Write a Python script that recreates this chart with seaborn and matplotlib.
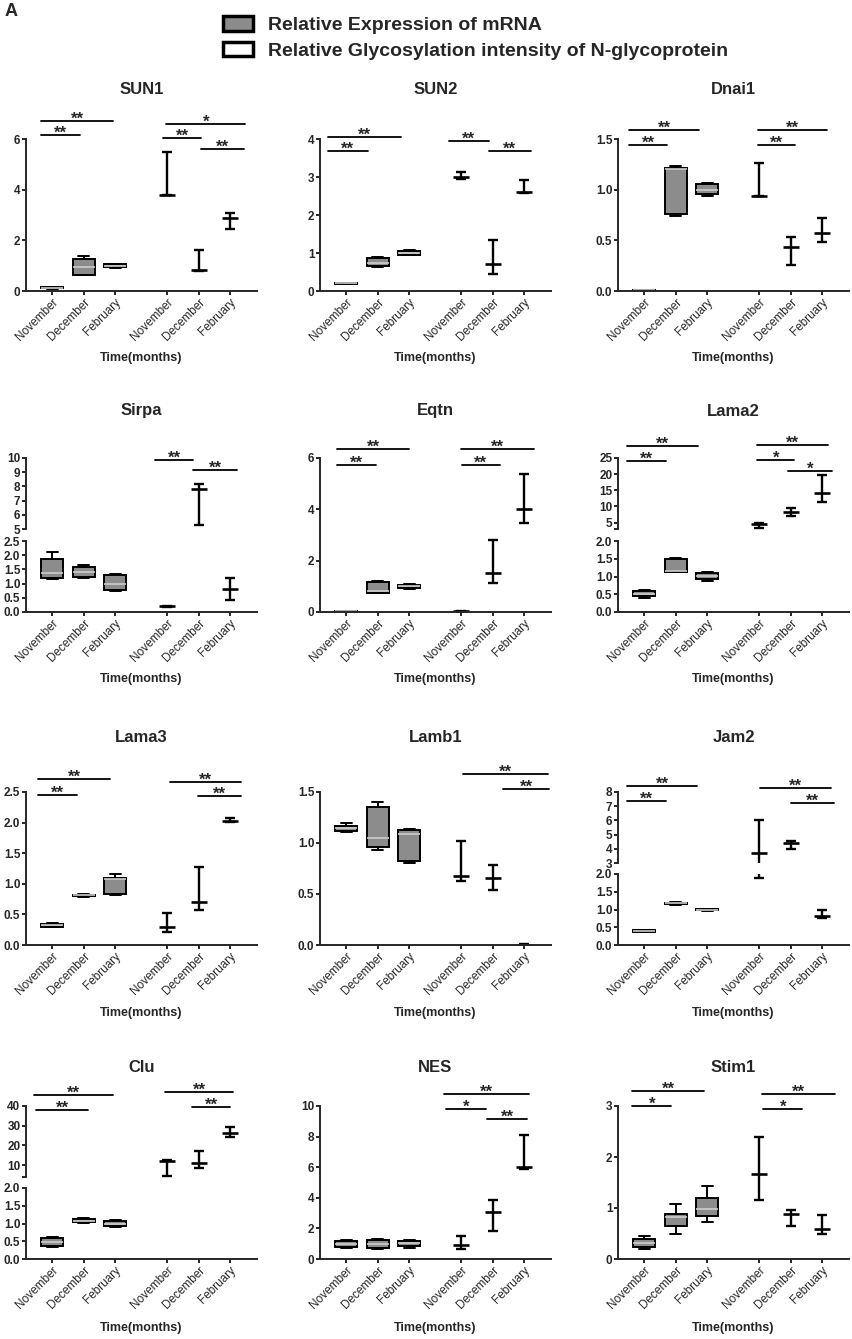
import numpy as np
import pandas as pd
import matplotlib
matplotlib.use("Agg")
import matplotlib.pyplot as plt
import matplotlib.transforms as mtransforms
from matplotlib.patches import Patch
import seaborn as sns

sns.set_style("ticks")
plt.rcParams["font.family"] = ["Liberation Sans", "DejaVu Sans"]

W, H = 853, 1339

months = ["November", "December", "February"]

# mRNA: five-number summaries (min, q1, median, q3, max) per month
# N-glycoprotein: (min, median, max) per month
sun1_mrna = [[0.08, 0.1, 0.12, 0.15, 0.17], [0.62, 0.64, 0.95, 1.28, 1.38], [0.9, 0.94, 1.0, 1.05, 1.08]]
sun1_glyco = [[3.8, 3.8, 5.5], [0.78, 0.82, 1.62], [2.45, 2.9, 3.08]]

sun2_mrna = [[0.18, 0.19, 0.2, 0.21, 0.22], [0.64, 0.66, 0.75, 0.86, 0.89], [0.94, 0.96, 1.0, 1.04, 1.08]]
sun2_glyco = [[2.96, 3.0, 3.14], [0.46, 0.72, 1.35], [2.58, 2.61, 2.91]]

dnai1_mrna = [[0.0, 0.002, 0.005, 0.007, 0.01], [0.74, 0.76, 1.2, 1.21, 1.23], [0.94, 0.96, 1.0, 1.06, 1.07]]
dnai1_glyco = [[0.94, 0.94, 1.26], [0.26, 0.43, 0.53], [0.48, 0.57, 0.72]]

sirpa_mrna = [[1.15, 1.18, 1.38, 1.85, 2.1], [1.18, 1.22, 1.42, 1.58, 1.64], [0.74, 0.77, 1.0, 1.3, 1.35]]
sirpa_glyco = [[0.18, 0.2, 0.21], [5.3, 7.8, 8.2], [0.43, 0.81, 1.2]]

eqtn_mrna = [[0.0, 0.01, 0.02, 0.03, 0.04], [0.73, 0.75, 0.8, 1.17, 1.2], [0.9, 0.93, 1.0, 1.05, 1.1]]
eqtn_glyco = [[0.0, 0.02, 0.03], [1.14, 1.53, 2.79], [3.47, 4.03, 5.39]]

lama2_mrna = [[0.4, 0.44, 0.5, 0.58, 0.62], [1.12, 1.14, 1.16, 1.48, 1.52], [0.88, 0.92, 1.02, 1.09, 1.13]]
lama2_glyco = [[3.4, 4.4, 4.9], [7.0, 8.4, 9.5], [11.4, 14.2, 19.8]]

lama3_mrna = [[0.29, 0.3, 0.32, 0.34, 0.36], [0.79, 0.8, 0.81, 0.82, 0.83], [0.82, 0.84, 1.08, 1.1, 1.16]]
lama3_glyco = [[0.22, 0.3, 0.53], [0.57, 0.7, 1.28], [2.01, 2.02, 2.07]]

lamb1_mrna = [[1.11, 1.12, 1.15, 1.17, 1.2], [0.93, 0.96, 1.05, 1.35, 1.4], [0.8, 0.82, 1.09, 1.13, 1.14]]
lamb1_glyco = [[0.63, 0.68, 1.02], [0.54, 0.66, 0.78], [0.0, 0.0, 0.005]]

jam2_mrna = [[0.37, 0.38, 0.4, 0.41, 0.43], [1.14, 1.15, 1.17, 1.19, 1.2], [0.97, 0.98, 1.0, 1.01, 1.02]]
jam2_glyco = [[1.88, 3.73, 6.0], [4.0, 4.38, 4.52], [0.76, 0.82, 0.98]]

clu_mrna = [[0.35, 0.37, 0.48, 0.58, 0.62], [1.02, 1.04, 1.08, 1.13, 1.16], [0.9, 0.92, 1.0, 1.07, 1.1]]
clu_glyco = [[4.6, 12.0, 12.5], [8.6, 11.2, 17.0], [24.1, 26.4, 29.4]]

nes_mrna = [[0.72, 0.78, 0.98, 1.15, 1.22], [0.65, 0.7, 1.0, 1.25, 1.32], [0.72, 0.85, 1.05, 1.2, 1.25]]
nes_glyco = [[0.68, 0.94, 1.48], [1.81, 3.06, 3.84], [5.85, 6.03, 8.08]]

stim1_mrna = [[0.2, 0.24, 0.32, 0.4, 0.45], [0.49, 0.64, 0.82, 0.89, 1.07], [0.73, 0.84, 0.98, 1.2, 1.43]]
stim1_glyco = [[1.15, 1.67, 2.39], [0.64, 0.89, 0.97], [0.49, 0.58, 0.86]]

# y ticks (lower axis, upper axis for broken axes)
yticks = {
    "SUN1": ([0, 2, 4, 6], None),
    "SUN2": ([0, 1, 2, 3, 4], None),
    "Dnai1": ([0, 0.5, 1.0, 1.5], None),
    "Sirpa": ([0, 0.5, 1.0, 1.5, 2.0, 2.5], [5, 6, 7, 8, 9, 10]),
    "Eqtn": ([0, 2, 4, 6], None),
    "Lama2": ([0, 0.5, 1.0, 1.5, 2.0], [3, 5, 10, 15, 20, 25]),
    "Lama3": ([0, 0.5, 1.0, 1.5, 2.0, 2.5], None),
    "Lamb1": ([0, 0.5, 1.0, 1.5], None),
    "Jam2": ([0, 0.5, 1.0, 1.5, 2.0], [3, 4, 5, 6, 7, 8]),
    "Clu": ([0, 0.5, 1.0, 1.5, 2.0], [4, 10, 20, 30, 40]),
    "NES": ([0, 2, 4, 6, 8, 10], None),
    "Stim1": ([0, 1, 2, 3], None),
}

# significance bars: (x start, x end, pixels above axis top, label)
sig_marks = {
    "SUN1": [(-0.35, 0.89, 4, "**"), (-0.35, 1.94, 18, "**"), (3.52, 4.73, 1, "**"),
             (3.62, 6.13, 15, "*"), (4.73, 6.1, -10, "**")],
    "SUN2": [(-0.58, 0.68, -12, "**"), (-0.58, 1.74, 2, "**"), (3.26, 4.52, -2, "**"),
             (4.52, 5.87, -12, "**")],
    "Dnai1": [(-0.47, 0.72, -6, "**"), (-0.47, 1.75, 9, "**"), (3.6, 4.78, -6, "**"),
              (3.6, 5.81, 9, "**")],
    "Sirpa": [(3.27, 4.48, -2, "**"), (4.48, 5.87, -12, "**")],
    "Eqtn": [(-0.3, 0.94, -7, "**"), (-0.3, 2.0, 9, "**"), (3.68, 4.87, -7, "**"),
             (3.65, 5.97, 9, "**")],
    "Lama2": [(-0.54, 0.7, -3, "**"), (-0.54, 1.71, 12, "**"), (3.59, 5.84, 13, "**"),
              (3.59, 4.76, -2, "*"), (4.57, 5.97, -13, "*")],
    "Lama3": [(-0.45, 0.78, -3, "**"), (-0.45, 1.84, 13, "**"), (3.75, 6.0, 10, "**"),
              (4.63, 6.0, -4, "**")],
    "Lamb1": [(3.71, 6.39, 18, "**"), (4.97, 6.45, 3, "**")],
    "Jam2": [(-0.53, 0.69, -9, "**"), (-0.53, 1.69, 6, "**"), (3.69, 5.94, 4, "**"),
             (4.66, 6.03, -11, "**")],
    "Clu": [(-0.51, 1.14, -4, "**"), (-0.57, 1.94, 11, "**"), (3.59, 5.75, 14, "**"),
            (4.44, 5.65, -1, "**")],
    "NES": [(3.1, 5.81, 12, "**"), (3.16, 4.45, -3, "*"), (4.48, 5.74, -13, "**")],
    "Stim1": [(-0.38, 0.86, 0, "*"), (-0.38, 1.9, 15, "**"), (3.78, 5.02, -3, "*"),
              (3.75, 6.06, 12, "**")],
}

panels = [
    ("SUN1", sun1_mrna, sun1_glyco), ("SUN2", sun2_mrna, sun2_glyco), ("Dnai1", dnai1_mrna, dnai1_glyco),
    ("Sirpa", sirpa_mrna, sirpa_glyco), ("Eqtn", eqtn_mrna, eqtn_glyco), ("Lama2", lama2_mrna, lama2_glyco),
    ("Lama3", lama3_mrna, lama3_glyco), ("Lamb1", lamb1_mrna, lamb1_glyco), ("Jam2", jam2_mrna, jam2_glyco),
    ("Clu", clu_mrna, clu_glyco), ("NES", nes_mrna, nes_glyco), ("Stim1", stim1_mrna, stim1_glyco),
]

pos_mrna = [0, 1, 2]
pos_glyco = [3.65, 4.65, 5.65]
XLIM = (-0.83, 6.5)
GRAY = "#8c8c8c"
LW = 1.4

col_left = [26, 320, 618]
AX_W = 231
row_top = [139, 458, 792, 1106]
row_bot = [291, 612, 945, 1259]
title_y = [89, 411, 738, 1067]
xlabel_y = [358, 679, 1013, 1328]
BROKEN_H = 71

fig = plt.figure(figsize=(W / 100, H / 100), dpi=100)


def fig_box(left, top, right, bottom):
    return [left / W, 1 - bottom / H, (right - left) / W, (bottom - top) / H]


def tick_labels(ticks):
    dec = any(float(t) != int(t) for t in ticks)
    labels = [f"{t:.1f}" if dec else f"{t:.0f}" for t in ticks]
    if len(ticks) > 2 and (ticks[1] - ticks[0]) != (ticks[2] - ticks[1]):
        labels[0] = ""
    return labels


def style_axis(ax, ticks, show_x):
    sns.despine(ax=ax)
    ax.spines["left"].set_linewidth(LW)
    ax.spines["bottom"].set_linewidth(LW)
    ax.set_ylim(ticks[0], ticks[-1])
    ax.set_yticks(ticks, labels=tick_labels(ticks))
    ax.tick_params(axis="both", direction="out", length=3, width=LW)
    ax.tick_params(axis="y", labelsize=8.5, pad=1)
    ax.tick_params(axis="x", pad=1)
    for lab in ax.get_yticklabels():
        lab.set_fontweight("bold")
    ax.set_xlim(*XLIM)
    ax.set_xlabel("")
    ax.set_ylabel("")
    if show_x:
        ax.set_xticks(pos_mrna + pos_glyco, labels=months + months)
        for lab in ax.get_xticklabels():
            lab.set_rotation(45)
            lab.set_ha("right")
            lab.set_va("top")
            lab.set_rotation_mode("anchor")
            lab.set_fontsize(8.5)
    else:
        ax.spines["bottom"].set_visible(False)
        ax.set_xticks([])


def draw_data(ax, mrna, glyco):
    df = pd.DataFrame({
        "month": np.repeat(months, 5),
        "value": np.concatenate(mrna),
    })
    sns.boxplot(data=df, x="month", y="value", order=months, ax=ax,
                color=GRAY, saturation=1, width=0.7, whis=(0, 100),
                linecolor="black", linewidth=LW, fliersize=0,
                medianprops=dict(color="#cdcdcd", linewidth=1.2))
    for x, (lo, med, hi) in zip(pos_glyco, glyco):
        ax.errorbar(x, med, yerr=[[med - lo], [hi - med]], fmt="none",
                    ecolor="black", elinewidth=LW + 0.3, capsize=3.5,
                    capthick=LW + 0.3)
        ax.hlines(med, x - 0.25, x + 0.25, color="black", lw=LW + 0.5)


def draw_sig(ax, marks):
    base = mtransforms.blended_transform_factory(ax.transData, ax.transAxes)
    for x0, x1, dy, label in marks:
        tr = mtransforms.offset_copy(base, fig=fig, y=dy, units="dots")
        ax.plot([x0, x1], [1, 1], color="black", lw=1.3, transform=tr,
                clip_on=False, scalex=False, scaley=False)
        tr2 = mtransforms.offset_copy(base, fig=fig, y=dy - 3, units="dots")
        ax.text((x0 + x1) / 2, 1, label, transform=tr2, ha="center",
                va="baseline", fontsize=12, fontweight="bold", clip_on=False)


for k, (name, mrna, glyco) in enumerate(panels):
    r, c = divmod(k, 3)
    left, top, bot = col_left[c], row_top[r], row_bot[r]
    low_ticks, high_ticks = yticks[name]
    if high_ticks is None:
        ax_lo = fig.add_axes(fig_box(left, top, left + AX_W, bot))
        draw_data(ax_lo, mrna, glyco)
        style_axis(ax_lo, low_ticks, True)
        ax_top = ax_lo
    else:
        ax_hi = fig.add_axes(fig_box(left, top, left + AX_W, top + BROKEN_H))
        ax_lo = fig.add_axes(fig_box(left, bot - BROKEN_H, left + AX_W, bot))
        draw_data(ax_hi, mrna, glyco)
        draw_data(ax_lo, mrna, glyco)
        style_axis(ax_hi, high_ticks, False)
        style_axis(ax_lo, low_ticks, True)
        ax_top = ax_hi
    draw_sig(ax_top, sig_marks[name])
    cx = (left + AX_W / 2) / W
    fig.text(cx, 1 - title_y[r] / H, name, ha="center", va="center",
             fontsize=12, fontweight="bold")
    fig.text(cx, 1 - xlabel_y[r] / H, "Time(months)", ha="center", va="center",
             fontsize=9, fontweight="bold")

fig.text(5 / W, 1 - 12 / H, "A", ha="left", va="center", fontsize=13, fontweight="bold")

handles = [
    Patch(facecolor=GRAY, edgecolor="black", linewidth=2.5, label="Relative Expression of mRNA"),
    Patch(facecolor="white", edgecolor="black", linewidth=2.5,
          label="Relative Glycosylation intensity of N-glycoprotein"),
]
fig.legend(handles=handles, loc="upper left", bbox_to_anchor=(223 / W, 1 - 16 / H),
           frameon=False, prop=dict(weight="bold", size=14), handlelength=1.55,
           handleheight=0.78, handletextpad=0.75, labelspacing=0.4,
           borderaxespad=0, borderpad=0)

fig.savefig("out.png", dpi=100)
